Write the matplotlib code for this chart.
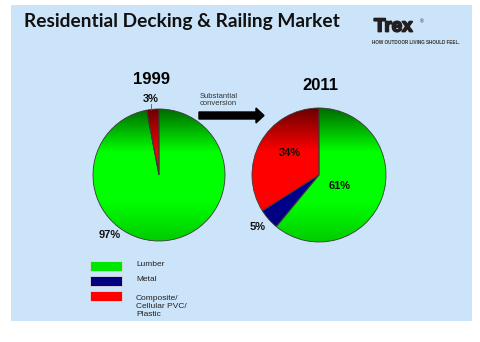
"""Residential decking & railing market share, 1999 vs 2011."""

import numpy as np
import matplotlib
matplotlib.use("Agg")
import matplotlib.pyplot as plt
import matplotlib.patheffects as pe
from matplotlib.patches import Rectangle, FancyArrow

materials = ["Composite/\nCellular PVC/\nPlastic", "Metal", "Lumber"]
share_1999 = [3, 0, 97]
share_2011 = [34, 5, 61]
years = ["1999", "2011"]

legend_order = ["Lumber", "Metal", "Composite/\nCellular PVC/\nPlastic"]
base_colors = {"Lumber": (0.0, 1.0, 0.0), "Metal": (0.0, 0.0, 0.55),
               "Composite/\nCellular PVC/\nPlastic": (1.0, 0.0, 0.0)}
legend_colors = {"Lumber": "#00e600", "Metal": "#000080",
                 "Composite/\nCellular PVC/\nPlastic": "#ff0000"}

BG = "#cce4f9"
SANS = "Liberation Sans"

fig = plt.figure(figsize=(4.8, 3.42), dpi=100)
fig.patch.set_facecolor("white")


def pixel_axes(z):
    a = fig.add_axes([0, 0, 1, 1], zorder=z)
    a.set_xlim(0, 480)
    a.set_ylim(342, 0)
    a.axis("off")
    a.patch.set_alpha(0)
    return a


bg = pixel_axes(0)
bg.add_patch(Rectangle((11, 5), 461, 316, facecolor=BG, edgecolor="none"))


def gradient(base):
    y = np.linspace(-1, 1, 200)
    f = np.interp(y, [-1.0, -0.4, 0.35, 1.0], [0.8, 1.0, 1.0, 0.42])
    img = np.ones((200, 1, 3))
    for i in range(3):
        img[:, 0, i] = base[i] * f
    return img


def draw_pie(center, radius, values):
    r = radius * 1.03
    pax = fig.add_axes([(center[0] - r) / 480, 1 - (center[1] + r) / 342, 2 * r / 480, 2 * r / 342],
                       zorder=1)
    pax.axis("off")
    wedges, _ = pax.pie(values, startangle=90, counterclock=True, radius=1,
                        colors=["none"] * len(values),
                        wedgeprops=dict(edgecolor="#3a3a3a", linewidth=0.6))
    for w, name in zip(wedges, materials):
        im = pax.imshow(gradient(base_colors[name]), extent=(-1, 1, -1, 1), origin="lower",
                        aspect="auto", zorder=0, interpolation="bilinear")
        im.set_clip_path(w)
        w.set_zorder(2)
    pax.set_xlim(-1.03, 1.03)
    pax.set_ylim(-1.03, 1.03)
    return pax


draw_pie((159, 175), 66, share_1999)
draw_pie((319, 175), 67, share_2011)

ax = pixel_axes(2)

ax.text(24, 22, "Residential Decking & Railing Market", family="Lato", weight="bold",
        fontsize=13.8, color="#111111", va="center", ha="left")
ax.text(374, 27, "Trex", family=SANS, weight="bold", fontsize=13.5, color="#231f20",
        va="center", ha="left",
        path_effects=[pe.withStroke(linewidth=1.3, foreground="#231f20")])
ax.text(420, 22, "®", family=SANS, fontsize=3.5, color="#231f20", va="center")
ax.text(416, 43, "HOW OUTDOOR LIVING SHOULD FEEL.", family=SANS, weight="bold",
        fontsize=3.3, color="#333333", va="center", ha="center")

ax.text(151, 80, years[0], family=SANS, weight="bold", fontsize=12, ha="center", va="center")
ax.text(320, 85, years[1], family=SANS, weight="bold", fontsize=12, ha="center", va="center")

lab = dict(family=SANS, weight="bold", fontsize=8, ha="center", va="center", color="#111111")
ax.text(151, 99, f"{share_1999[0]}%", **lab)
ax.plot([151, 151], [103.5, 110], color="#555555", lw=0.6)
ax.text(110, 235, f"{share_1999[2]}%", **lab)
ax.text(290, 153, f"{share_2011[0]}%", **lab)
ax.text(258, 227, f"{share_2011[1]}%", **lab)
ax.text(340, 186, f"{share_2011[2]}%", **lab)

ax.add_patch(FancyArrow(199, 115.5, 65, 0, width=7, head_width=15, head_length=8,
                        length_includes_head=True, color="black", zorder=3))
ax.text(200, 100, "Substantial\nconversion", family=SANS, fontsize=5.5, color="#333333",
        ha="left", va="center", linespacing=1.1)

for i, name in enumerate(legend_order):
    y0 = 261 + i * 15
    ax.add_patch(Rectangle((90, y0), 32, 10, facecolor=legend_colors[name],
                           edgecolor="#dddddd", linewidth=0.6, zorder=3))
    ax.text(136, y0 + 3.5, name, family=SANS, fontsize=6, color="#222222",
            ha="left", va="top" if "\n" in name else "center", linespacing=1.3)

fig.savefig("out.png", dpi=100, facecolor="white")
